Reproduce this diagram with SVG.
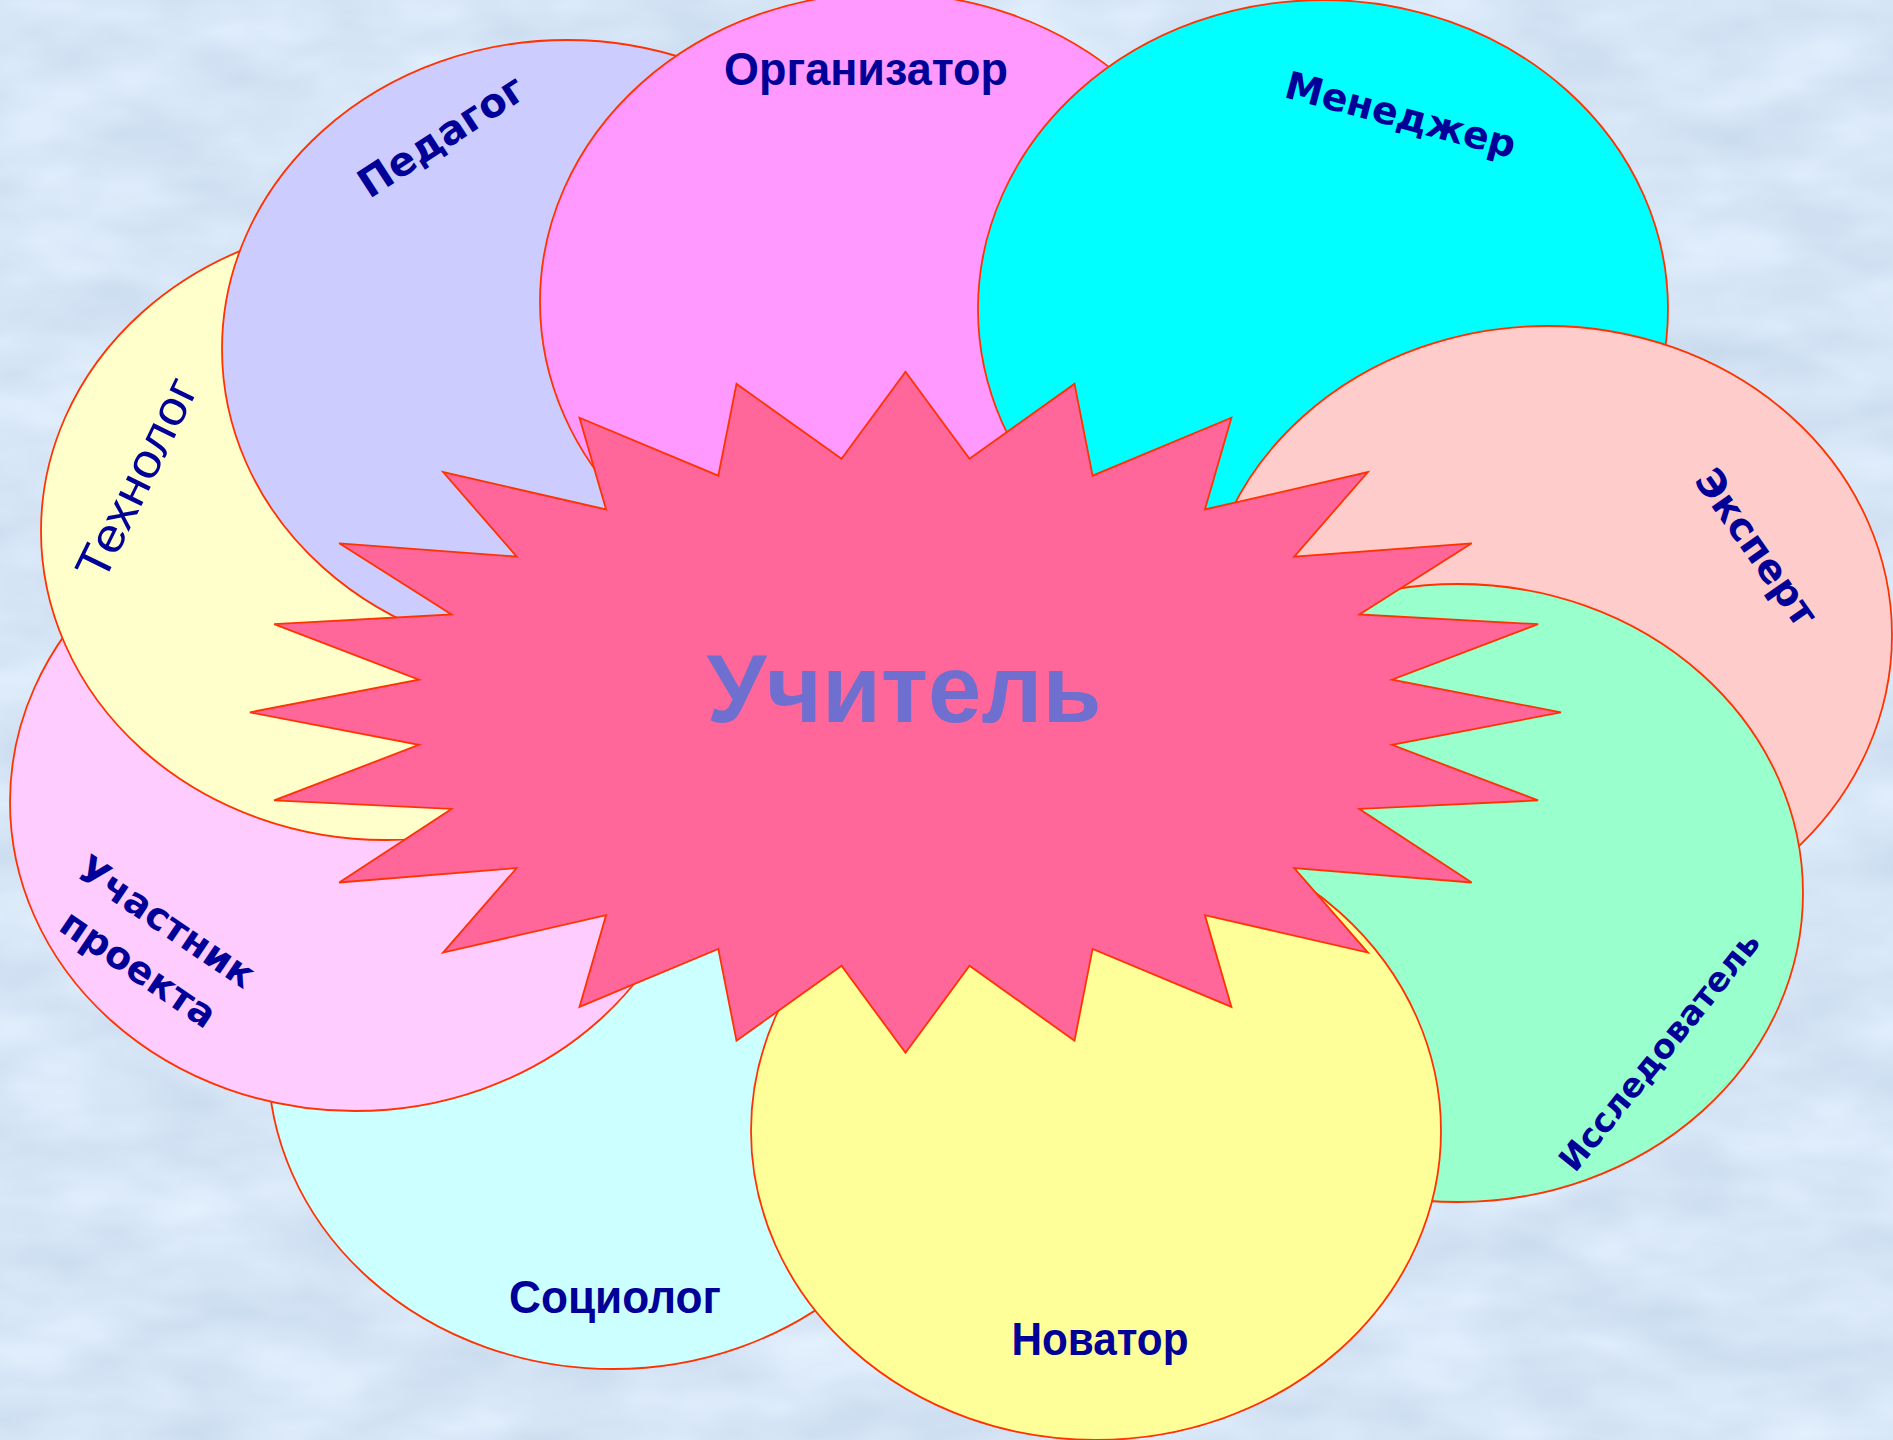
<svg xmlns="http://www.w3.org/2000/svg" width="1893" height="1440" viewBox="0 0 1893 1440">
<defs>
<filter id="tex" x="0" y="0" width="100%" height="100%" color-interpolation-filters="sRGB">
<feTurbulence type="fractalNoise" baseFrequency="0.008 0.018" numOctaves="3" seed="7" result="n"/>
<feColorMatrix in="n" type="matrix" values="0.13 0 0 0 0.775  0.11 0 0 0 0.845  0.08 0 0 0 0.925  0 0 0 0 1"/>
</filter>
<style>
.pet{stroke:#FF3300;stroke-width:1.8}
.lbl{fill:#000099;font-family:"DejaVu Sans",Verdana,sans-serif;font-weight:bold;text-anchor:middle}
.nar{fill:#000099;font-family:"Liberation Sans",Arial,sans-serif;font-weight:bold;text-anchor:middle}
.reg{fill:#000099;font-family:"Liberation Sans",Arial,sans-serif;text-anchor:middle}
</style>
</defs>
<rect width="1893" height="1440" fill="#D6E6F5"/>
<rect width="1893" height="1440" filter="url(#tex)"/>

<g id="node-sociolog">
<ellipse class="pet" cx="613" cy="1060" rx="345" ry="309" fill="#CCFFFF"/>
<text class="nar" x="615" y="1313" font-size="46" textLength="212" lengthAdjust="spacingAndGlyphs">Социолог</text>
</g>
<g id="node-uchastnik">
<ellipse class="pet" cx="355" cy="802" rx="345" ry="309" fill="#FFCCFF"/>
<g transform="translate(167,921) rotate(34)"><text class="lbl" x="0" y="14" font-size="38">Участник</text></g>
<g transform="translate(139,968) rotate(34)"><text class="lbl" x="0" y="14" font-size="38">проекта</text></g>
</g>
<g id="node-tehnolog">
<ellipse class="pet" cx="386" cy="531" rx="345" ry="309" fill="#FFFFCC"/>
<g transform="translate(136,478) rotate(-64)"><text class="reg" x="0" y="17" font-size="48" textLength="218" lengthAdjust="spacingAndGlyphs">Технолог</text></g>
</g>
<g id="node-pedagog">
<ellipse class="pet" cx="567" cy="349" rx="345" ry="309" fill="#CCCCFF"/>
<g transform="translate(441,136) rotate(-33)"><text class="lbl" x="0" y="14" font-size="40">Педагог</text></g>
</g>
<g id="node-organizator">
<ellipse class="pet" cx="885" cy="302" rx="345" ry="309" fill="#FF99FF"/>
<text class="nar" x="866" y="85" font-size="47" textLength="284" lengthAdjust="spacingAndGlyphs">Организатор</text>
</g>
<g id="node-menedzher">
<ellipse class="pet" cx="1323" cy="309" rx="345" ry="309" fill="#00FFFF"/>
<g transform="translate(1401,114) rotate(15)"><text class="lbl" x="0" y="14" font-size="38">Менеджер</text></g>
</g>
<g id="node-ekspert">
<ellipse class="pet" cx="1547" cy="635" rx="345" ry="309" fill="#FFCCCC"/>
<g transform="translate(1757,547) rotate(55)"><text class="lbl" x="0" y="14" font-size="39">Эксперт</text></g>
</g>
<g id="node-issledovatel">
<ellipse class="pet" cx="1458" cy="893" rx="345" ry="309" fill="#99FFCC"/>
<g transform="translate(1659,1051) rotate(-51)"><text class="lbl" x="0" y="12" font-size="33.5">Исследователь</text></g>
</g>
<g id="node-novator">
<ellipse class="pet" cx="1096" cy="1131" rx="345" ry="309" fill="#FFFF99"/>
<text class="nar" x="1100" y="1355" font-size="46" textLength="177" lengthAdjust="spacingAndGlyphs">Новатор</text>
</g>

<g id="node-uchitel">
<polygon class="pet" fill="#FF6699" points="905.5,371.8 969.5,458.8 1074.5,383.9 1092.6,475.7 1231.4,417.7 1204.9,509.5 1367.9,472.1 1294.2,556.6 1471.7,543.3 1359.4,614.5 1538.1,624.2 1392,679.7 1561,712.3 1392,744.9 1538.1,800.4 1359.4,808.9 1471.7,882.5 1294.2,868 1367.9,952.6 1204.9,915.1 1231.4,1006.9 1092.6,948.9 1074.5,1040.7 969.5,965.8 905.5,1052.8 841.5,965.8 736.5,1040.7 718.3,948.9 579.5,1006.9 606.1,915.1 443.1,952.6 516.7,868 339.2,882.5 451.5,808.9 274.1,800.4 418.9,744.9 249.9,712.3 418.9,679.7 274.1,624.2 451.5,614.5 339.2,543.3 516.7,556.6 443.1,472.1 606.1,509.5 579.5,417.7 718.3,475.7 736.5,383.9 841.5,458.8"/>
<text x="904" y="722" font-family="Liberation Sans, Arial, sans-serif" font-weight="bold" font-size="96" fill="#6F6FD0" text-anchor="middle">Учитель</text>
</g>
<g id="connectors"/>
</svg>
